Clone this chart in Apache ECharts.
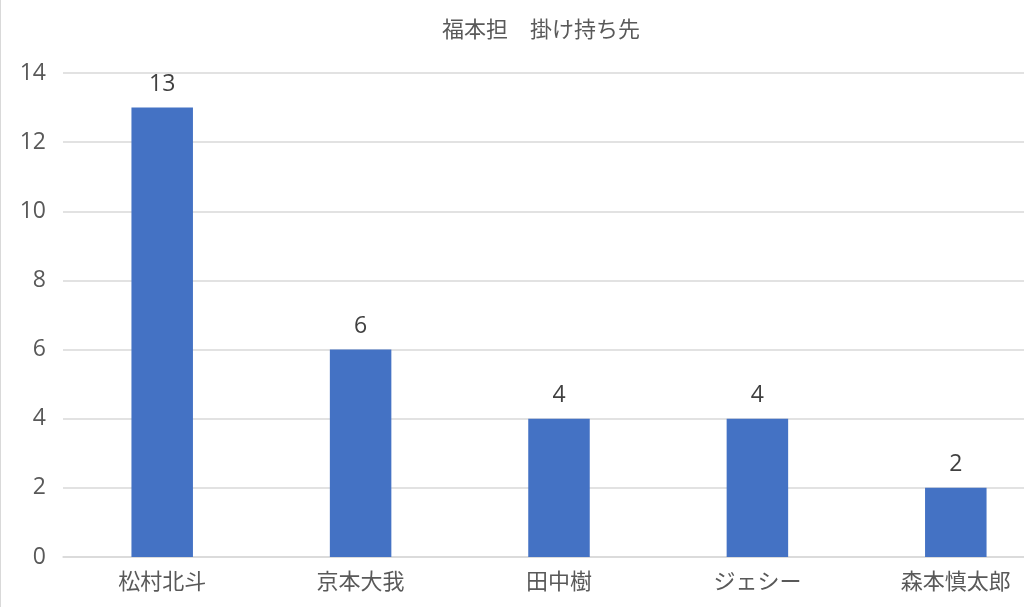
<!DOCTYPE html>
<html>
<head>
<meta charset="utf-8">
<script src="https://cdn.jsdelivr.net/npm/echarts@6/dist/echarts.min.js"></script>
<style>
  html, body { margin: 0; padding: 0; background: #fff; }
  #chart { width: 1024px; height: 607px; box-sizing: border-box; border-left: 1px solid #d9d9d9; }
</style>
</head>
<body>
<div id="chart"></div>
<script>
// data
var categories = ['松村北斗', '京本大我', '田中樹', 'ジェシー', '森本慎太郎'];
var counts = [13, 6, 4, 4, 2];
var yTicks = [0, 2, 4, 6, 8, 10, 12, 14];

var cjkFont = '"Noto Sans CJK JP", "Noto Sans", sans-serif';
var numFont = '"Open Sans", "Noto Sans", sans-serif';
var chart = echarts.init(document.getElementById('chart'));

chart.setOption({
  animation: false,
  title: {
    text: '福本担　掛け持ち先',
    left: 436,
    top: 13,
    textStyle: { fontFamily: cjkFont, fontSize: 22, fontWeight: 'normal', color: '#595959' }
  },
  // plot area runs past the right edge, like the cropped original
  grid: { left: 62, width: 992, top: 73, bottom: 50, containLabel: false, outerBoundsMode: 'none' },
  xAxis: {
    type: 'category',
    data: categories,
    axisLine: { lineStyle: { color: '#d9d9d9', width: 1.5 } },
    axisTick: { show: false },
    axisLabel: { fontFamily: cjkFont, fontSize: 22, color: '#595959', margin: 13 }
  },
  yAxis: {
    type: 'value',
    min: yTicks[0],
    max: yTicks[yTicks.length - 1],
    interval: 2,
    axisLine: { show: false },
    axisTick: { show: false },
    axisLabel: { fontFamily: numFont, fontSize: 23, color: '#595959', margin: 17 },
    splitLine: { lineStyle: { color: '#d9d9d9', width: 1.5 } }
  },
  series: [{
    type: 'bar',
    data: counts,
    barWidth: '31%',
    itemStyle: { color: '#4472c4' },
    label: {
      show: true,
      position: 'top',
      distance: 12,
      fontFamily: numFont,
      fontSize: 23,
      color: '#404040'
    }
  }]
});
</script>
</body>
</html>
